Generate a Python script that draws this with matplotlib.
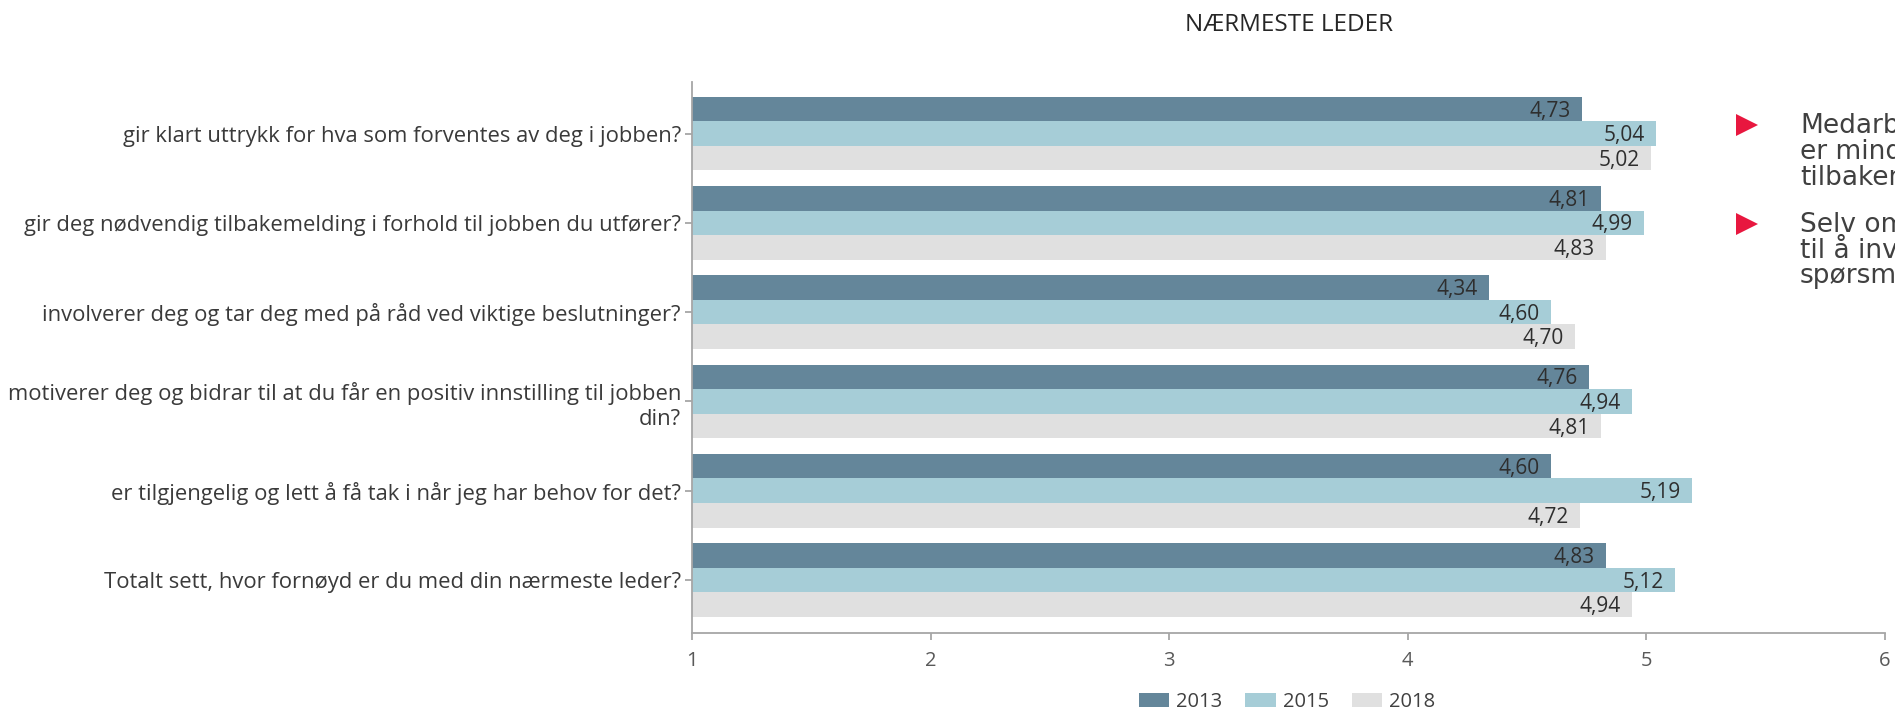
import matplotlib
matplotlib.use("Agg")
import matplotlib.pyplot as plt
from matplotlib.patches import Patch, Polygon
import numpy as np

plt.rcParams['font.family'] = ['Open Sans', 'DejaVu Sans']

title = "NÆRMESTE LEDER"
categories = [
    "gir klart uttrykk for hva som forventes av deg i jobben?",
    "gir deg nødvendig tilbakemelding i forhold til jobben du utfører?",
    "involverer deg og tar deg med på råd ved viktige beslutninger?",
    "motiverer deg og bidrar til at du får en positiv innstilling til jobben\ndin?",
    "er tilgjengelig og lett å få tak i når jeg har behov for det?",
    "Totalt sett, hvor fornøyd er du med din nærmeste leder?",
]
years = ["2013", "2015", "2018"]
values_2013 = [4.73, 4.81, 4.34, 4.76, 4.60, 4.83]
values_2015 = [5.04, 4.99, 4.60, 4.94, 5.19, 5.12]
values_2018 = [5.02, 4.83, 4.70, 4.81, 4.72, 4.94]
x_ticks = [1, 2, 3, 4, 5, 6]

bullet_lines = [
    ["Medarbeiderne", "er mindre fornøyd med", "tilbakemeldinger"],
    ["Selv om", "til å involvere", "spørsmål"],
]

colors = ["#64869A", "#A6CDD7", "#E0E0E0"]
text_dark = "#2E2E2E"
axis_grey = "#A6A6A6"

W, H = 1895, 714
fig = plt.figure(figsize=(W / 100, H / 100), dpi=100)
ax = fig.add_axes([692 / W, 1 - 633 / H, (1885 - 692) / W, (633 - 82) / H])

series = [values_2013, values_2015, values_2018]
idx = np.arange(len(categories))
bar_h = 0.275
for k, (vals, col, yr) in enumerate(zip(series, colors, years)):
    ypos = idx + (k - 1) * bar_h
    ax.barh(ypos, vals, height=bar_h, color=col, label=yr, linewidth=0)
    for y, v in zip(ypos, vals):
        ax.annotate(f"{v:.2f}".replace(".", ","), xy=(v, y),
                    xytext=(-8, -1.5), textcoords="offset points",
                    ha="right", va="center", fontsize=15, color=text_dark)

ax.set_xlim(1, 6)
ax.set_ylim(5.593, -0.577)
ax.set_xticks(x_ticks)
ax.set_xticklabels([str(t) for t in x_ticks])
ax.set_yticks(idx)
ax.set_yticklabels(categories, fontsize=15.8, color="#3A3A3A", linespacing=1.25)

for side in ["top", "right"]:
    ax.spines[side].set_visible(False)
for side in ["left", "bottom"]:
    ax.spines[side].set_color(axis_grey)
    ax.spines[side].set_linewidth(1.3)
ax.tick_params(axis="x", direction="out", length=5, width=1.3, color=axis_grey,
               labelsize=14.5, labelcolor="#595959", pad=8)
ax.tick_params(axis="y", direction="out", length=5, width=1.3, color=axis_grey, pad=3)

fig.text(1289 / W, 1 - 25 / H, title, ha="center", va="center",
         fontsize=17.5, color="#262626")

handles = [Patch(facecolor=c, edgecolor="none") for c in colors]
fig.legend(handles, years, loc="center", bbox_to_anchor=(1287 / W, 1 - 702 / H),
           ncol=3, frameon=False, fontsize=14.5, labelcolor="#404040",
           handlelength=1.5, handleheight=0.65, handletextpad=0.35,
           columnspacing=1.15, borderpad=0)

# bullet list at the right edge (baselines in pixels from the top)
red = "#E8173F"
baselines = [[133, 159, 185], [232, 258, 283]]
for lines, ys in zip(bullet_lines, baselines):
    cy = ys[0] - 8
    tri = Polygon([[1736 / W, 1 - (cy - 11) / H],
                   [1758 / W, 1 - cy / H],
                   [1736 / W, 1 - (cy + 11) / H]],
                  closed=True, transform=fig.transFigure, color=red, lw=0)
    fig.add_artist(tri)
    for txt, y in zip(lines, ys):
        fig.text(1800 / W, 1 - y / H, txt, ha="left", va="baseline",
                 fontsize=19, color="#404040", family=["DejaVu Sans"])

fig.savefig("out.png", dpi=100)
